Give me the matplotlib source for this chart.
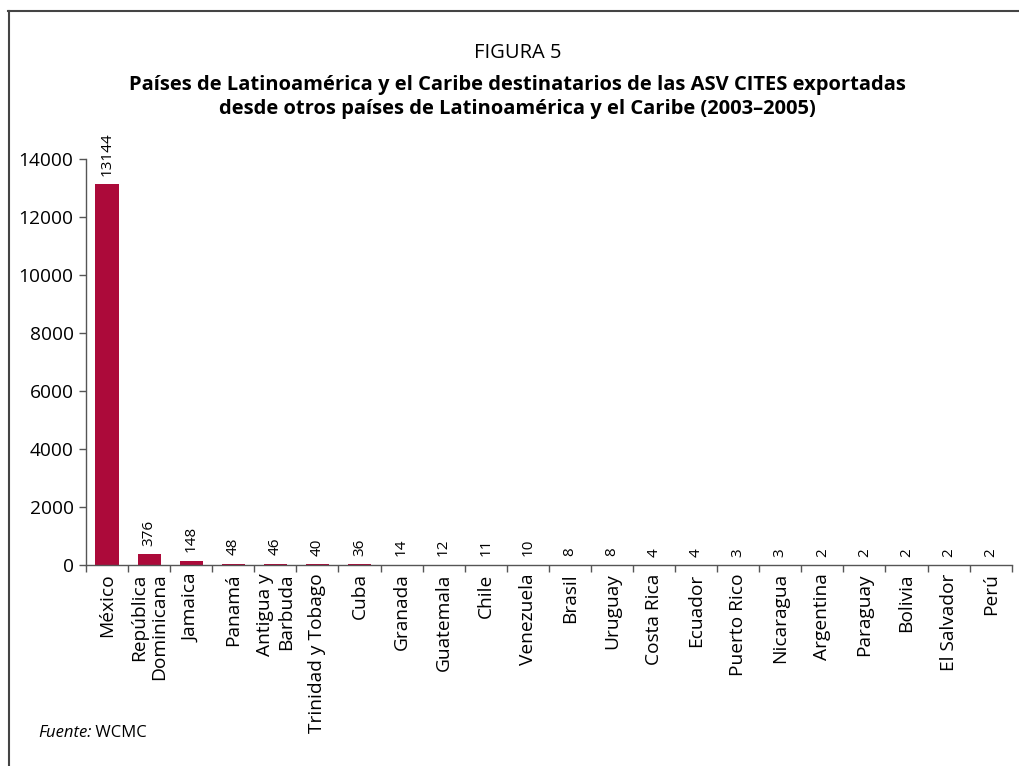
import matplotlib
matplotlib.use("Agg")
import matplotlib.pyplot as plt
from matplotlib.lines import Line2D
import numpy as np

plt.rcParams['font.family'] = ['Open Sans', 'DejaVu Sans']

# datos
paises = ['México', 'República\nDominicana', 'Jamaica', 'Panamá', 'Antigua y\nBarbuda',
          'Trinidad y Tobago', 'Cuba', 'Granada', 'Guatemala', 'Chile', 'Venezuela',
          'Brasil', 'Uruguay', 'Costa Rica', 'Ecuador', 'Puerto Rico', 'Nicaragua',
          'Argentina', 'Paraguay', 'Bolivia', 'El Salvador', 'Perú']
valores = [13144, 376, 148, 48, 46, 40, 36, 14, 12, 11, 10,
           8, 8, 4, 4, 3, 3, 2, 2, 2, 2, 2]
yticks = [0, 2000, 4000, 6000, 8000, 10000, 12000, 14000]

fig = plt.figure(figsize=(10.19, 7.66), dpi=100)
ax = fig.add_axes([0.0844, 0.2624, 0.9084, 0.5300])

x = np.arange(len(paises))
bars = ax.bar(x, valores, width=0.55, color='#AC0A3A')

for xi, v in zip(x, valores):
    ax.annotate(str(v), (xi, v), xytext=(0, 6), textcoords='offset points',
                rotation=90, ha='center', va='bottom', fontsize=11)

ax.set_xlim(-0.5, len(paises) - 0.5)
ax.set_ylim(0, 14000)
ax.set_yticks(yticks)
ax.set_yticklabels([str(t) for t in yticks], fontsize=13.8)
ax.tick_params(axis='y', length=5, width=1, color='#555555', pad=4)

ax.set_xticks(x)
ax.set_xticklabels(paises, rotation=90, ha='center', va='top', multialignment='right',
                   fontsize=13.8)
ax.tick_params(axis='x', which='major', length=0, pad=6)
ax.set_xticks(np.arange(len(paises) + 1) - 0.5, minor=True)
ax.tick_params(axis='x', which='minor', length=5, width=1, color='#555555')

for s in ['top', 'right']:
    ax.spines[s].set_visible(False)
for s in ['left', 'bottom']:
    ax.spines[s].set_color('#555555')
    ax.spines[s].set_linewidth(1)

# marco de la figura
fig.add_artist(Line2D([8/1019, 1], [1 - 10.5/766, 1 - 10.5/766], color='#444444', lw=1.5))
fig.add_artist(Line2D([8.5/1019, 8.5/1019], [0, 1 - 10.5/766], color='#444444', lw=1.5))

fig.text(518/1019, 1 - 53/766, 'FIGURA 5', ha='center', va='center', fontsize=14.5)
fig.text(517/1019, 1 - 97/766,
         'Países de Latinoamérica y el Caribe destinatarios de las ASV CITES exportadas\n'
         'desde otros países de Latinoamérica y el Caribe (2003–2005)',
         ha='center', va='center', fontsize=14.5, fontweight='bold', linespacing=1.3)

t = fig.text(38/1019, 1 - 737/766, 'Fuente:', style='italic', fontsize=12, va='baseline')
ax.annotate(' WCMC', xy=(1, 0), xycoords=t, va='bottom', ha='left', fontsize=12,
            annotation_clip=False)

fig.savefig('out.png', dpi=100)
